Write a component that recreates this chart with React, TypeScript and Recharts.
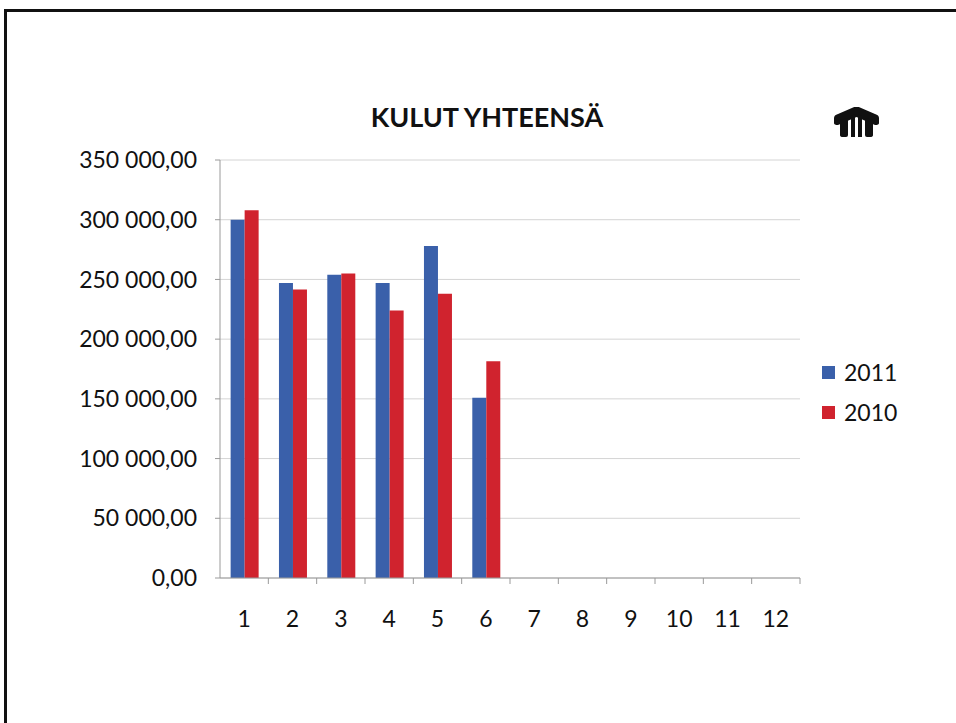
import { BarChart, Bar, XAxis, YAxis, CartesianGrid, Legend } from "recharts";

const months = ["1", "2", "3", "4", "5", "6", "7", "8", "9", "10", "11", "12"];
const kulut2011 = [300000, 247000, 254000, 247000, 278000, 151000, null, null, null, null, null, null];
const kulut2010 = [308000, 241500, 255000, 224000, 238000, 181500, null, null, null, null, null, null];
const yTicks = [0, 50000, 100000, 150000, 200000, 250000, 300000, 350000];

const data = months.map((m, i) => ({ month: m, y2011: kulut2011[i], y2010: kulut2010[i] }));

const BLUE = "#3a60aa";
const RED = "#d0232e";
const FONT = "Lato, 'Open Sans', sans-serif";

const PLOT_LEFT = 220;
const PLOT_RIGHT = 800;
const BAND = (PLOT_RIGHT - PLOT_LEFT) / months.length;

function fmt(v: number) {
  const s = Math.round(v).toString().replace(/\B(?=(\d{3})+(?!\d))/g, " ");
  return s + ",00";
}

function XTick(props: any) {
  const { x, y, payload } = props;
  return (
    <g>
      <line x1={x + BAND / 2} x2={x + BAND / 2} y1={y - 8} y2={y - 2} stroke="#9a9a9a" />
      <text x={x} y={y + 41} textAnchor="middle" fontSize={23} fill="#111" fontFamily={FONT}>
        {payload.value}
      </text>
    </g>
  );
}

function LegendBox() {
  const items = [
    { label: "2011", color: BLUE },
    { label: "2010", color: RED },
  ];
  return (
    <div style={{ fontFamily: FONT, fontSize: 23, color: "#111" }}>
      {items.map((it) => (
        <div key={it.label} style={{ display: "flex", alignItems: "center", height: 40 }}>
          <span style={{ width: 13, height: 13, background: it.color, marginRight: 9, display: "inline-block" }} />
          {it.label}
        </div>
      ))}
    </div>
  );
}

export default function App() {
  return (
    <div style={{ position: "absolute", left: 0, top: 0, width: 956, height: 723, background: "#fff", overflow: "hidden" }}>
      <div
        style={{
          position: "absolute",
          left: 4,
          top: 9,
          width: 1000,
          height: 800,
          borderLeft: "3px solid #111",
          borderTop: "3px solid #111",
        }}
      />
      <div
        style={{
          position: "absolute",
          left: 0,
          width: 974,
          top: 100,
          textAlign: "center",
          fontFamily: FONT,
          fontWeight: 700,
          fontSize: 27,
          color: "#111",
        }}
      >
        KULUT YHTEENSÄ
      </div>
      <svg style={{ position: "absolute", left: 834, top: 107 }} width={45} height={30} viewBox="0 0 45 30">
        <path d="M0 11 Q0 8 4 7 L22.5 -1 L41 7 Q45 8 45 11 L45 16 Q45 18 41 18 L22.5 10 L4 18 Q0 18 0 16 Z" fill="#111" />
        <path d="M6 13 L14 11 L14 28 Q14 30 12 30 L9 30 Q6 30 6 28 Z" fill="#111" />
        <path d="M17 9 L21 7 L21 30 L17 30 Z" fill="#111" />
        <path d="M24 7 L28 9 L28 30 L24 30 Z" fill="#111" />
        <path d="M31 11 L39 13 L39 28 Q39 30 36 30 L33 30 Q31 30 31 28 Z" fill="#111" />
      </svg>
      <BarChart
        width={956}
        height={723}
        data={data}
        margin={{ top: 160, right: 956 - PLOT_RIGHT, bottom: 85, left: 0 }}
        barCategoryGap="22%"
        barGap={0}
      >
        <CartesianGrid vertical={false} stroke="#d4d4d4" />
        <XAxis
          dataKey="month"
          height={60}
          stroke="#9a9a9a"
          tickLine={false}
          tick={<XTick />}
          interval={0}
        />
        <YAxis
          width={PLOT_LEFT}
          domain={[0, 350000]}
          ticks={yTicks}
          tickFormatter={fmt}
          stroke="#9a9a9a"
          tickSize={5}
          tickMargin={18}
          tick={{ fontSize: 23, fill: "#111", fontFamily: FONT }}
        />
        <Legend
          layout="vertical"
          align="center"
          verticalAlign="middle"
          content={<LegendBox />}
          wrapperStyle={{ position: "absolute", left: 822, top: 352, width: 120 }}
        />
        <Bar dataKey="y2011" name="2011" fill={BLUE} isAnimationActive={false} />
        <Bar dataKey="y2010" name="2010" fill={RED} isAnimationActive={false} />
      </BarChart>
    </div>
  );
}
